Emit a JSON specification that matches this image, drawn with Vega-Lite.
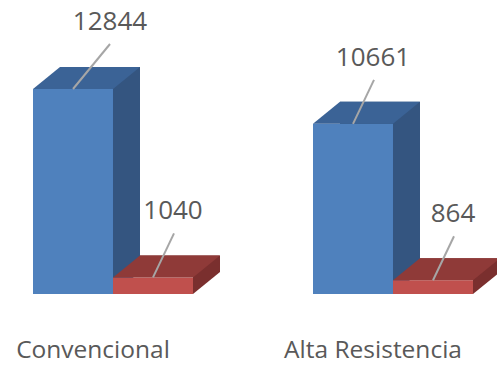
{
  "$schema": "https://vega.github.io/schema/vega-lite/v6.json",
  "width": 497,
  "height": 294,
  "autosize": {"type": "none"},
  "padding": {"left": 0, "top": 0, "right": 0, "bottom": 71},
  "background": "white",
  "config": {
    "view": {"stroke": null},
    "font": "Open Sans",
    "text": {"font": "Open Sans"}
  },
  "data": {
    "values": [
      {"tipo": "Convencional", "serie": "Serie 1", "valor": 12844},
      {"tipo": "Convencional", "serie": "Serie 2", "valor": 1040},
      {"tipo": "Alta Resistencia", "serie": "Serie 1", "valor": 10661},
      {"tipo": "Alta Resistencia", "serie": "Serie 2", "valor": 864}
    ]
  },
  "encoding": {
    "x": {
      "field": "tipo",
      "type": "nominal",
      "sort": ["Convencional", "Alta Resistencia"],
      "scale": {"paddingInner": 0.428571, "paddingOuter": 0.101786, "align": 0.5789},
      "axis": {
        "title": null,
        "domain": false,
        "ticks": false,
        "tickSize": 0,
        "grid": false,
        "labelAngle": 0,
        "labelFont": "Open Sans",
        "labelFontSize": 24.5,
        "labelColor": "#595959",
        "labelBaseline": "alphabetic",
        "labelPadding": 63,
        "labelOffset": -20
      }
    },
    "y": {
      "field": "valor",
      "type": "quantitative",
      "scale": {"domain": [0, 18420], "nice": false, "zero": true},
      "axis": null
    }
  },
  "layer": [
    {
      "mark": {"type": "bar", "yOffset": -22, "y2Offset": -22},
      "encoding": {
        "xOffset": {
          "field": "serie",
          "type": "nominal",
          "scale": {"domain": ["Serie 1", "Serie 2"], "range": [27, 187], "paddingInner": 0, "paddingOuter": 0}
        },
        "color": {
          "field": "serie",
          "type": "nominal",
          "scale": {"domain": ["Serie 1", "Serie 2"], "range": ["#345580", "#7A2F2E"]},
          "legend": null
        }
      }
    },
    {
      "mark": {
        "type": "point",
        "shape": "M40,0L67,-22L40,-22Z",
        "size": 4,
        "filled": true,
        "opacity": 1
      },
      "encoding": {
        "y": {"datum": 0, "type": "quantitative"},
        "xOffset": {
          "field": "serie",
          "type": "nominal",
          "scale": {"type": "point", "domain": ["Serie 1", "Serie 2"], "padding": 0.5}
        },
        "color": {
          "field": "serie",
          "type": "nominal",
          "scale": {"domain": ["Serie 1", "Serie 2"], "range": ["#345580", "#7A2F2E"]},
          "legend": null
        }
      }
    },
    {
      "mark": {"type": "bar"},
      "encoding": {
        "xOffset": {
          "field": "serie",
          "type": "nominal",
          "scale": {"domain": ["Serie 1", "Serie 2"], "paddingInner": 0, "paddingOuter": 0}
        },
        "color": {
          "field": "serie",
          "type": "nominal",
          "scale": {"domain": ["Serie 1", "Serie 2"], "range": ["#4F81BD", "#C0504D"]},
          "legend": null
        }
      }
    },
    {
      "mark": {
        "type": "point",
        "shape": "M-40,0L40,0L67,-22L-13,-22Z",
        "size": 4,
        "filled": true,
        "opacity": 1
      },
      "encoding": {
        "xOffset": {
          "field": "serie",
          "type": "nominal",
          "scale": {"type": "point", "domain": ["Serie 1", "Serie 2"], "padding": 0.5}
        },
        "color": {
          "field": "serie",
          "type": "nominal",
          "scale": {"domain": ["Serie 1", "Serie 2"], "range": ["#3B6396", "#8F3A38"]},
          "legend": null
        }
      }
    },
    {
      "transform": [{"filter": "datum.valor != 12844"}],
      "mark": {
        "type": "point",
        "shape": "M0,0L21,-44",
        "size": 4,
        "filled": false,
        "stroke": "#A6A6A6",
        "strokeWidth": 2,
        "opacity": 1
      },
      "encoding": {
        "xOffset": {
          "field": "serie",
          "type": "nominal",
          "scale": {"type": "point", "domain": ["Serie 1", "Serie 2"], "padding": 0.5}
        }
      }
    },
    {
      "transform": [{"filter": "datum.valor == 12844"}],
      "mark": {
        "type": "point",
        "shape": "M0,0L37,-45",
        "size": 4,
        "filled": false,
        "stroke": "#A6A6A6",
        "strokeWidth": 2,
        "opacity": 1
      },
      "encoding": {
        "xOffset": {
          "field": "serie",
          "type": "nominal",
          "scale": {"type": "point", "domain": ["Serie 1", "Serie 2"], "padding": 0.5}
        }
      }
    },
    {
      "transform": [{"filter": "datum.valor != 12844"}],
      "mark": {
        "type": "text",
        "dx": 20,
        "dy": -58,
        "align": "center",
        "baseline": "alphabetic",
        "font": "Open Sans",
        "fontSize": 26,
        "color": "#595959"
      },
      "encoding": {
        "xOffset": {
          "field": "serie",
          "type": "nominal",
          "scale": {"type": "point", "domain": ["Serie 1", "Serie 2"], "padding": 0.5}
        },
        "text": {"field": "valor", "type": "quantitative", "format": "d"}
      }
    },
    {
      "transform": [{"filter": "datum.valor == 12844"}],
      "mark": {
        "type": "text",
        "dx": 37,
        "dy": -59,
        "align": "center",
        "baseline": "alphabetic",
        "font": "Open Sans",
        "fontSize": 26,
        "color": "#595959"
      },
      "encoding": {
        "xOffset": {
          "field": "serie",
          "type": "nominal",
          "scale": {"type": "point", "domain": ["Serie 1", "Serie 2"], "padding": 0.5}
        },
        "text": {"field": "valor", "type": "quantitative", "format": "d"}
      }
    }
  ],
  "resolve": {"scale": {"color": "independent", "xOffset": "independent"}}
}
